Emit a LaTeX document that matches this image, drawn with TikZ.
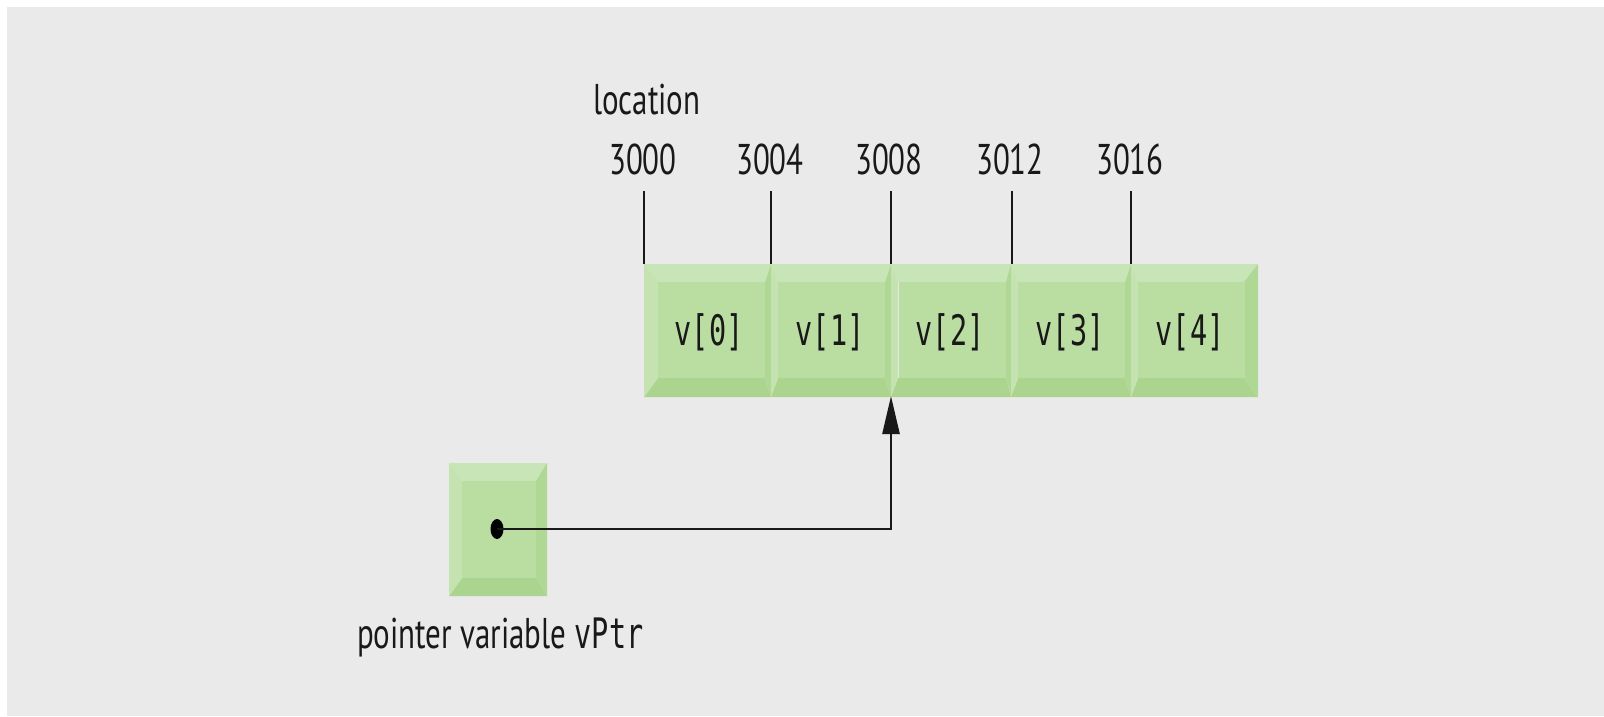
\documentclass[tikz,border=0pt]{standalone}
\usepackage{fontspec}
\usetikzlibrary{arrows.meta,shapes.geometric}
\newfontfamily\lblfont[FakeStretch=0.72]{PT Sans}
\newfontfamily\codefont[FakeStretch=0.68]{DejaVu Sans Mono}
\definecolor{bgc}{RGB}{234,234,234}
\definecolor{facec}{RGB}{186,221,161}
\definecolor{topc}{RGB}{200,229,183}
\definecolor{leftc}{RGB}{196,227,177}
\definecolor{rightc}{RGB}{175,216,148}
\definecolor{botc}{RGB}{171,213,143}
\definecolor{inkc}{RGB}{25,25,25}
\newcommand{\bevelbox}[8]{% x0 y0 x1 y1 lw rw t b
  \fill[topc] (#1,#2) -- (#3,#2) -- ({#3-#6},{#2+#7}) -- ({#1+#5},{#2+#7}) -- cycle;
  \fill[botc] (#1,#4) -- (#3,#4) -- ({#3-#6},{#4-#8}) -- ({#1+#5},{#4-#8}) -- cycle;
  \fill[leftc] (#1,#2) -- ({#1+#5},{#2+#7}) -- ({#1+#5},{#4-#8}) -- (#1,#4) -- cycle;
  \fill[rightc] (#3,#2) -- ({#3-#6},{#2+#7}) -- ({#3-#6},{#4-#8}) -- (#3,#4) -- cycle;
}
\tikzset{
  lbl/.style={font=\lblfont\fontsize{43}{50}\selectfont, text=inkc, inner sep=0pt, anchor=base west},
  cell/.style={fill=facec, minimum width=107pt, minimum height=96pt, inner sep=0pt},
  code/.style={font=\codefont\fontsize{42}{50}\selectfont, text=inkc, inner sep=0pt, anchor=base},
  tick/.style={draw=inkc, line width=2pt},
  ptr/.style={draw=inkc, line width=2.5pt, -{Triangle[length=38pt,width=17pt]}}
}
\begin{document}
\begin{tikzpicture}[x=1pt,y=-1pt]
\useasboundingbox (0,0) rectangle (1604,716);
\fill[white] (0,0) rectangle (1604,716);
\fill[bgc] (7,7) rectangle (1604,716);
% array cells
\bevelbox{644}{264}{771}{397}{14}{6}{18}{19}
\bevelbox{771}{264}{891}{397}{7}{6}{18}{19}
\bevelbox{891}{264}{1011}{397}{7}{5}{18}{19}
\bevelbox{1011}{264}{1131}{397}{7}{6}{18}{19}
\bevelbox{1131}{264}{1258}{397}{7}{14}{18}{19}
\node[cell] (c0) at (711.5,330) {};
\node[cell] (c1) at (831.5,330) {};
\node[cell] (c2) at (952,330) {};
\node[cell] (c3) at (1071.5,330) {};
\node[cell] (c4) at (1191,330) {};
\node[code] (t0) at (709,345) {v[0]};
\node[code] (t1) at (830,345) {v[1]};
\node[code] (t2) at (950,345) {v[2]};
\node[code] (t3) at (1070,345) {v[3]};
\node[code] (t4) at (1190,345) {v[4]};
% pointer box
\bevelbox{449}{463}{547}{596}{13}{11}{18}{18}
\node[fill=facec, minimum width=74pt, minimum height=97pt, inner sep=0pt] (pbox) at (499,529.5) {};
\node[ellipse, fill=black, minimum width=13pt, minimum height=20pt, inner sep=0pt] (dot) at (497,529) {};
% labels
\node[lbl] (loc) at (593,114) {location};
\node[lbl] (a0) at (609,174) {3000};
\node[lbl] (a1) at (736,174) {3004};
\node[lbl] (a2) at (855,174) {3008};
\node[lbl] (a3) at (976,174) {3012};
\node[lbl] (a4) at (1096,174) {3016};
\node[lbl] (plabel) at (357,648) {pointer variable {\codefont\fontsize{42}{50}\selectfont vPtr}};
% ticks
\coordinate (k0) at (644,191); \coordinate (b0) at (644,264);
\coordinate (k1) at (771,191); \coordinate (b1) at (771,264);
\coordinate (k2) at (891,191); \coordinate (b2) at (891,264);
\coordinate (k3) at (1012,191); \coordinate (b3) at (1012,264);
\coordinate (k4) at (1131,191); \coordinate (b4) at (1131,264);
\foreach \i in {0,...,4} \draw[tick] (k\i) -- (b\i);
% pointer arrow
\coordinate (target) at (891,396);
\draw[ptr] (dot.center) -| (target);
\end{tikzpicture}
\end{document}
